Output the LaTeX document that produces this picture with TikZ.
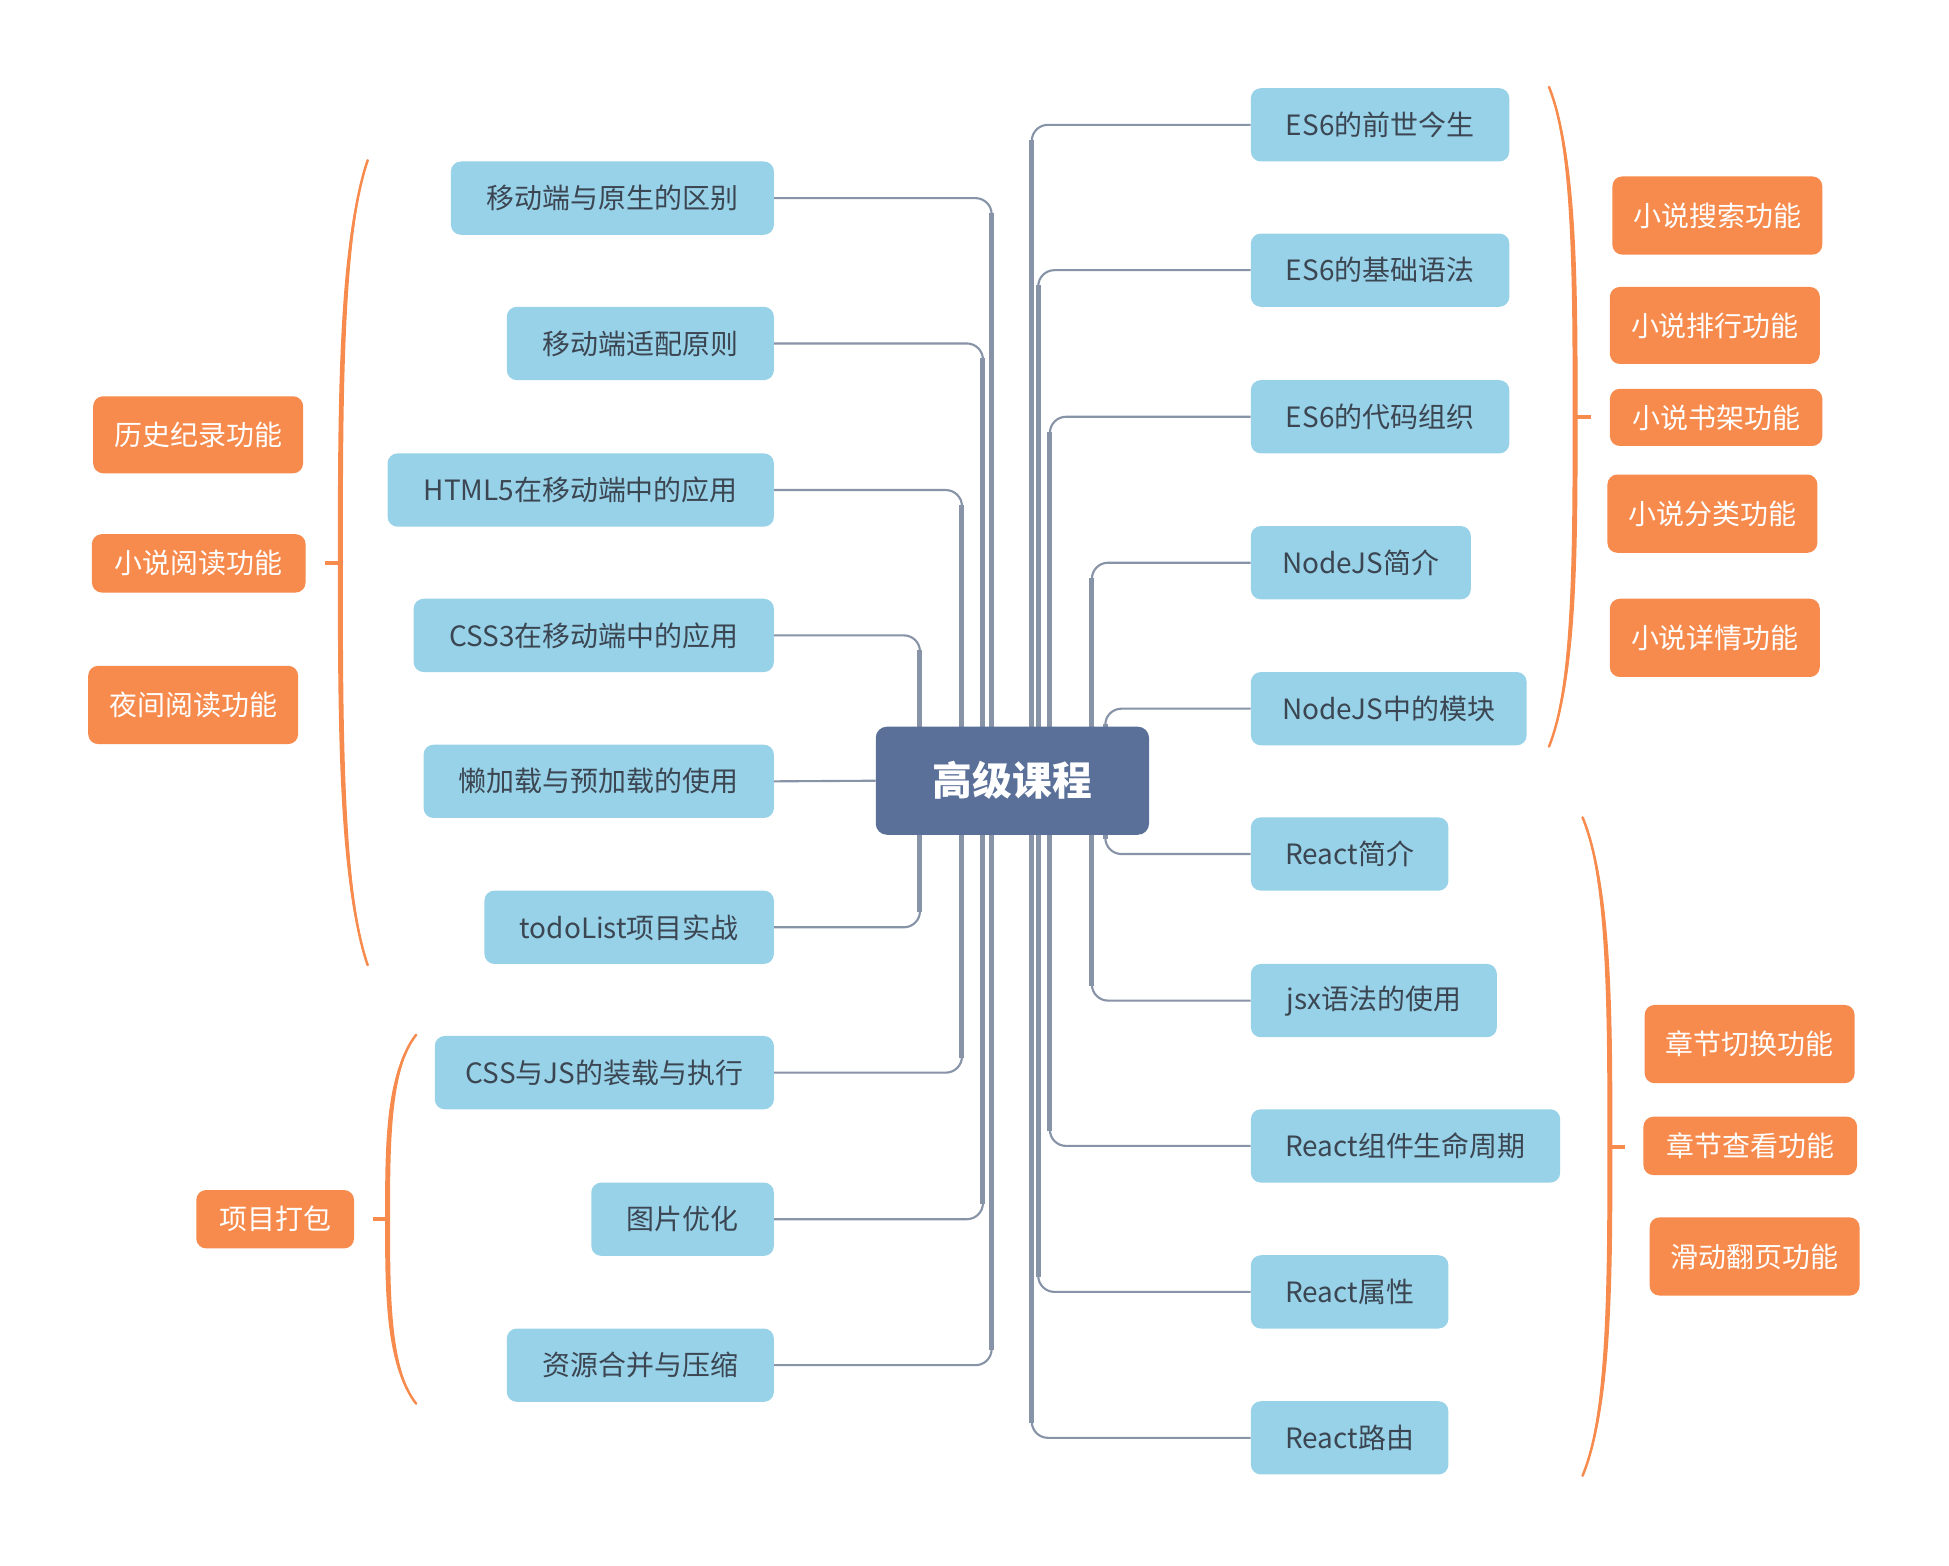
\documentclass[tikz,border=0pt]{standalone}
\usepackage{fontspec}
\setmainfont{Noto Sans CJK SC}
\usetikzlibrary{calc,backgrounds}
\definecolor{nodeblue}{HTML}{98D2E8}
\definecolor{nodeorange}{HTML}{F78B4D}
\definecolor{rootblue}{HTML}{5A7098}
\definecolor{linegray}{HTML}{8793A6}
\definecolor{txtdark}{HTML}{3B4652}
\tikzset{
  bluebox/.style={fill=nodeblue, rounded corners=8pt, inner sep=0pt, minimum height=59pt, text=txtdark, font=\fontsize{22.5}{27}\selectfont},
  orangebox/.style={fill=nodeorange, rounded corners=8pt, inner sep=0pt, text=white, font=\fontsize{22.5}{27}\selectfont},
  rootbox/.style={fill=rootblue, rounded corners=9pt, inner sep=0pt, minimum width=220pt, minimum height=87pt, text=white, font=\fontsize{32}{38}\selectfont\bfseries},
  conn/.style={draw=linegray, line width=1.7pt, rounded corners=13pt},
  trunk/.style={draw=linegray, line width=4pt},
  bracestroke/.style={draw=nodeorange, line width=2pt, line cap=round},
}
\newcommand\obrace[5]{%
  \pgfmathsetmacro\bxH{(#3-#2)/2}%
  \pgfmathsetmacro\bxM{(#2+#3)/2}%
  \pgfmathsetmacro\bxA{#2+0.2*\bxH}%
  \pgfmathsetmacro\bxB{#2+0.6*\bxH}%
  \pgfmathsetmacro\bxC{#3-0.6*\bxH}%
  \pgfmathsetmacro\bxD{#3-0.2*\bxH}%
  \fill[nodeorange] (#1,#2) .. controls (#4-2,\bxA) and (#4-2,\bxB) .. (#4-2,\bxM) .. controls (#4-2,\bxC) and (#4-2,\bxD) .. (#1,#3) .. controls (#4+2,\bxD) and (#4+2,\bxC) .. (#4+2,\bxM) .. controls (#4+2,\bxB) and (#4+2,\bxA) .. (#1,#2) -- cycle;
  \draw[bracestroke] (#1,#2) .. controls (#4,\bxA) and (#4,\bxB) .. (#4,\bxM) .. controls (#4,\bxC) and (#4,\bxD) .. (#1,#3);
  \draw[bracestroke, line width=3.2pt, line cap=butt] (#4,\bxM) -- (#5,\bxM);
}
\begin{document}
\begin{tikzpicture}[x=1pt,y=-1pt]
\useasboundingbox (0,0) rectangle (1569,1260);
% root
\node[rootbox] (c) at (815,628.5) {高级课程};
% left blue
\node[bluebox, minimum width=260pt] (a1) at (493,159.5) {移动端与原生的区别};
\node[bluebox, minimum width=215pt] (a2) at (515.5,276.5) {移动端适配原则};
\node[bluebox, minimum width=311pt] (a3) at (467.5,394.5) {HTML5在移动端中的应用};
\node[bluebox, minimum width=290pt] (a4) at (478,511.5) {CSS3在移动端中的应用};
\node[bluebox, minimum width=282pt] (a5) at (482,629) {懒加载与预加载的使用};
\node[bluebox, minimum width=233pt] (a6) at (506.5,746.5) {todoList项目实战};
\node[bluebox, minimum width=273pt] (a7) at (486.5,863.5) {CSS与JS的装载与执行};
\node[bluebox, minimum width=147pt] (a8) at (549.5,981.5) {图片优化};
\node[bluebox, minimum width=215pt] (a9) at (515.5,1099) {资源合并与压缩};
% right blue
\node[bluebox, minimum width=208pt] (b1) at (1111,100.5) {ES6的前世今生};
\node[bluebox, minimum width=208pt] (b2) at (1111,217.5) {ES6的基础语法};
\node[bluebox, minimum width=208pt] (b3) at (1111,335.5) {ES6的代码组织};
\node[bluebox, minimum width=177pt] (b4) at (1095.5,453) {NodeJS简介};
\node[bluebox, minimum width=222pt] (b5) at (1118,570.5) {NodeJS中的模块};
\node[bluebox, minimum width=159pt] (b6) at (1086.5,687.5) {React简介};
\node[bluebox, minimum width=198pt] (b7) at (1106,805.5) {jsx语法的使用};
\node[bluebox, minimum width=249pt] (b8) at (1131.5,922.5) {React组件生命周期};
\node[bluebox, minimum width=159pt] (b9) at (1086.5,1040) {React属性};
\node[bluebox, minimum width=159pt] (b10) at (1086.5,1157.5) {React路由};
% orange left
\node[orangebox, minimum width=169pt, minimum height=62pt] (o1) at (159.5,350) {历史纪录功能};
\node[orangebox, minimum width=172pt, minimum height=47pt] (o2) at (160,453.5) {小说阅读功能};
\node[orangebox, minimum width=169pt, minimum height=63pt] (o3) at (155.5,567.5) {夜间阅读功能};
\node[orangebox, minimum width=127pt, minimum height=47pt] (o4) at (221.5,981.5) {项目打包};
% orange right
\node[orangebox, minimum width=169pt, minimum height=63pt] (r1) at (1382.5,173.5) {小说搜索功能};
\node[orangebox, minimum width=169pt, minimum height=62pt] (r2) at (1380.5,262) {小说排行功能};
\node[orangebox, minimum width=171pt, minimum height=46pt] (r3) at (1381.5,336) {小说书架功能};
\node[orangebox, minimum width=169pt, minimum height=63pt] (r4) at (1378.5,413.5) {小说分类功能};
\node[orangebox, minimum width=169pt, minimum height=63pt] (r5) at (1380.5,513.5) {小说详情功能};
\node[orangebox, minimum width=169pt, minimum height=63pt] (r6) at (1408.5,840.5) {章节切换功能};
\node[orangebox, minimum width=172pt, minimum height=47pt] (r7) at (1409,922.5) {章节查看功能};
\node[orangebox, minimum width=169pt, minimum height=63pt] (r8) at (1412.5,1011.5) {滑动翻页功能};
% trunk x positions
\coordinate (va1) at (798.3,0);
\coordinate (va2) at (791.3,0);
\coordinate (va3) at (774.4,0);
\coordinate (va4) at (740.6,0);
\coordinate (vb1) at (830.6,0);
\coordinate (vb2) at (835.8,0);
\coordinate (vb3) at (845.2,0);
\coordinate (vb4) at (879,0);
\coordinate (vb5) at (889.8,0);
\begin{scope}[on background layer]
\fill[white] (0,0) rectangle (1569,1260);
% left top group
\foreach \n/\v in {a1/va1,a2/va2,a3/va3,a4/va4}{
  \draw[conn] (\n.east) -- (\n.east -| \v) -- (\v |- c.center);
  \draw[trunk] (\v |- c.center) -- ($(\n.east -| \v)+(0,12)$);
}
% left bottom group
\foreach \n/\v in {a6/va4,a7/va3,a8/va2,a9/va1}{
  \draw[conn] (\n.east) -- (\n.east -| \v) -- (\v |- c.center);
  \draw[trunk] (\v |- c.center) -- ($(\n.east -| \v)+(0,-12)$);
}
\draw[conn] (a5.east) -- (c.west);
% right top group
\foreach \n/\v in {b1/vb1,b2/vb2,b3/vb3,b4/vb4,b5/vb5}{
  \draw[conn] (\n.west) -- (\n.west -| \v) -- (\v |- c.center);
  \draw[trunk] (\v |- c.center) -- ($(\n.west -| \v)+(0,12)$);
}
% right bottom group
\foreach \n/\v in {b6/vb5,b7/vb4,b8/vb3,b9/vb2,b10/vb1}{
  \draw[conn] (\n.west) -- (\n.west -| \v) -- (\v |- c.center);
  \draw[trunk] (\v |- c.center) -- ($(\n.west -| \v)+(0,-12)$);
}
\end{scope}
% braces
\obrace{296}{129}{777}{274}{262}
\obrace{335}{833}{1130}{312}{300}
\obrace{1247}{70}{601}{1268}{1281}
\obrace{1274}{658}{1188}{1296}{1308}
\end{tikzpicture}
\end{document}
